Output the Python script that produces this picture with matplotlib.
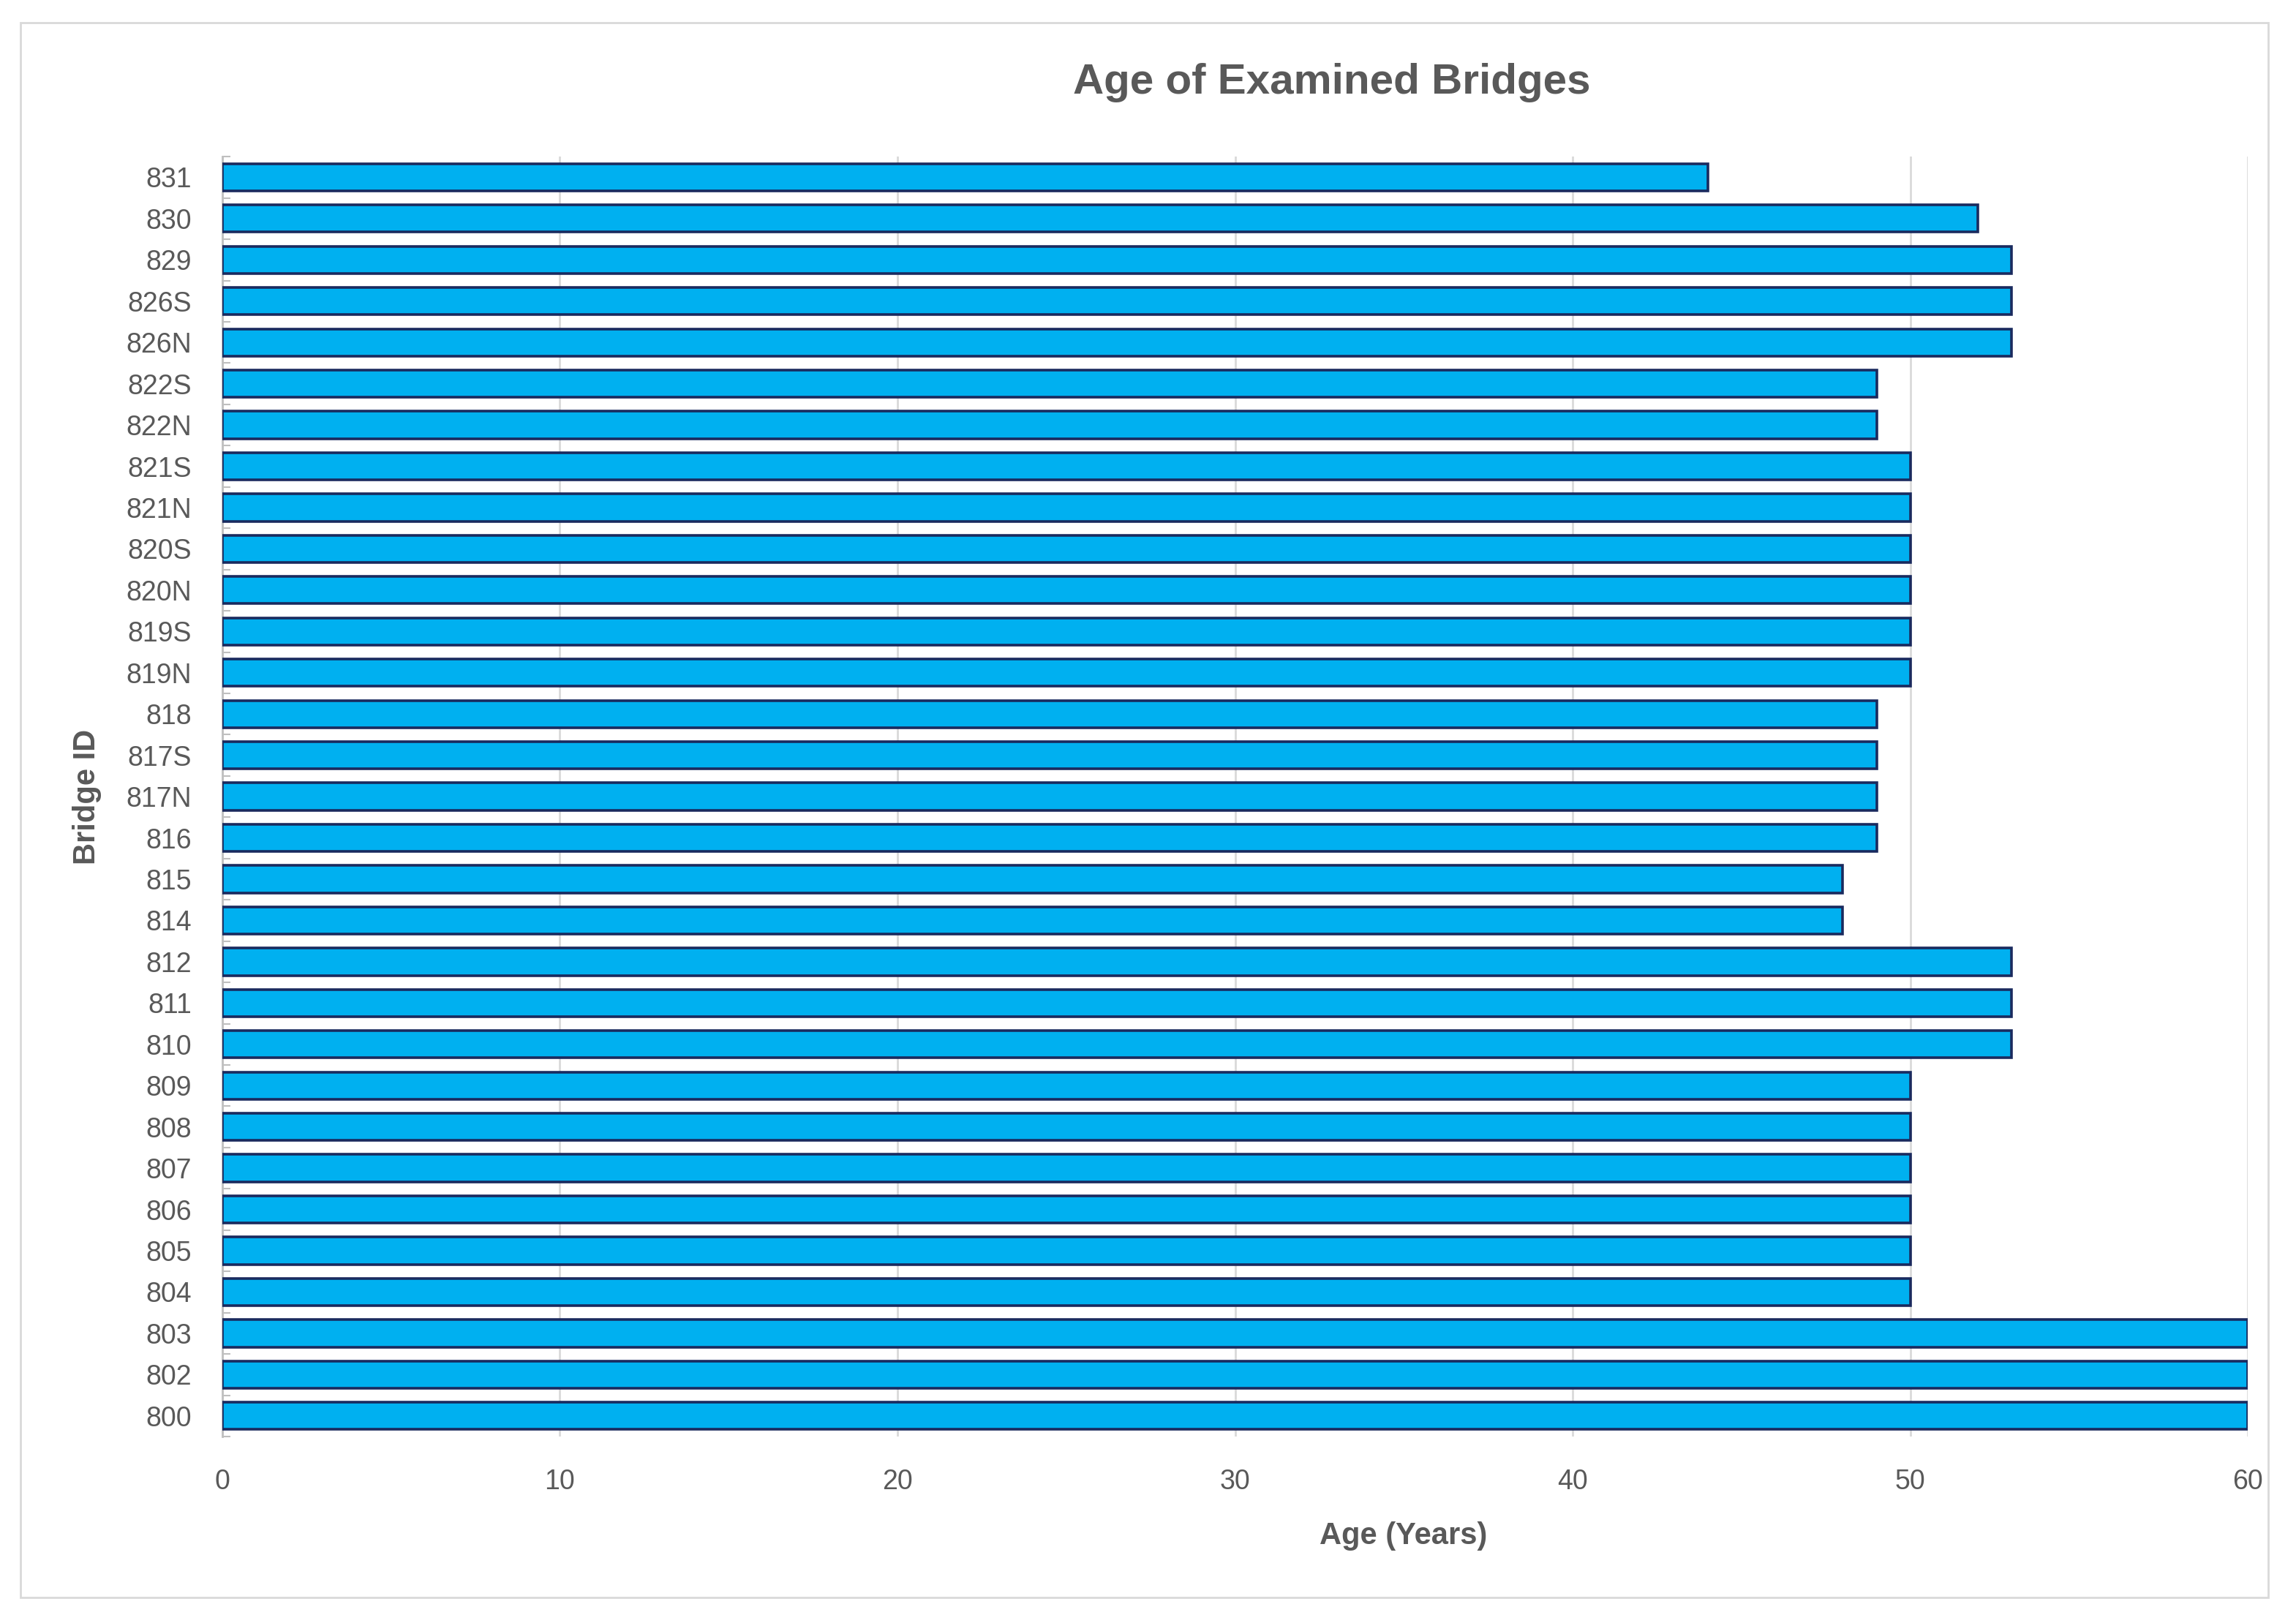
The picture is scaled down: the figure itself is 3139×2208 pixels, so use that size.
import numpy as np
import matplotlib.pyplot as plt
from matplotlib.patches import Rectangle

# bridge ids from top of chart to bottom
bridge_ids = ['831', '830', '829', '826S', '826N', '822S', '822N', '821S', '821N',
              '820S', '820N', '819S', '819N', '818', '817S', '817N', '816', '815',
              '814', '812', '811', '810', '809', '808', '807', '806', '805', '804',
              '803', '802', '800']
ages = [44, 52, 53, 53, 53, 49, 49, 50, 50,
        50, 50, 50, 50, 49, 49, 49, 49, 48,
        48, 53, 53, 53, 50, 50, 50, 50, 50, 50,
        60, 60, 60]
x_ticks = [0, 10, 20, 30, 40, 50, 60]

fonts = ['Liberation Sans Narrow', 'Liberation Sans', 'DejaVu Sans']
plt.rcParams['font.family'] = fonts
txt = '#595959'

fig = plt.figure(figsize=(31.39, 22.08), dpi=100)
ax = fig.add_axes([0.0968, 0.1105, 0.8823, 0.7925])

pos = np.arange(len(bridge_ids))
ax.barh(pos, ages, height=0.66, color='#00B0F0', edgecolor='#1A2A5E',
        linewidth=2.6, zorder=3)

ax.set_ylim(len(bridge_ids) - 0.5, -0.5)
ax.set_xlim(0, 60)
ax.set_xticks(x_ticks)
ax.set_yticks(pos)
ax.set_yticklabels(bridge_ids)
ax.set_yticks(np.arange(-0.5, len(bridge_ids), 1), minor=True)

ax.tick_params(axis='x', length=0, labelsize=27, colors=txt, pad=32)
ax.tick_params(axis='y', which='major', length=0, labelsize=27, colors=txt, pad=30)
ax.tick_params(axis='y', which='minor', length=8, width=1.5, color='#BFBFBF',
               direction='in')

ax.grid(axis='x', color='#D9D9D9', linewidth=2, zorder=0)
for s in ['top', 'right', 'bottom']:
    ax.spines[s].set_visible(False)
ax.spines['left'].set_color('#BFBFBF')
ax.spines['left'].set_linewidth(2)

ax.set_xlabel('Age (Years)', fontsize=30, fontweight='bold', color=txt)
ax.xaxis.set_label_coords(0.583, -0.066)
ax.set_ylabel('Bridge ID', fontsize=30, fontweight='bold', color=txt)
ax.yaxis.set_label_coords(-0.0595, 0.5)

fig.text(0.58, 0.949, 'Age of Examined Bridges', fontsize=42, fontweight='bold',
         color=txt, ha='center', va='center')

# outer chart border
fig.patches.append(Rectangle((0.009, 0.011), 0.979, 0.975, transform=fig.transFigure,
                             fill=False, edgecolor='#D9D9D9', linewidth=2))

fig.savefig('out.png', dpi=100, facecolor='white')
